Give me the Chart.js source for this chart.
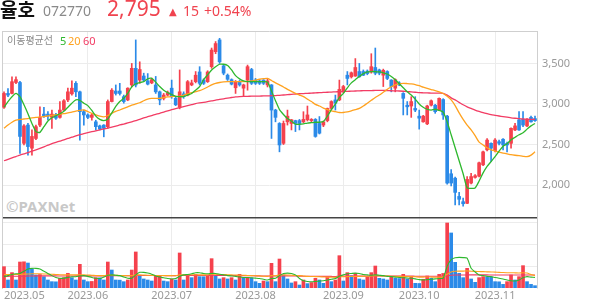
<!DOCTYPE html>
<html>
<head>
<meta charset="utf-8">
<script src="https://cdn.jsdelivr.net/npm/chart.js@4.4.0/dist/chart.umd.min.js"></script>
<style>
  html, body { margin: 0; padding: 0; background: #fff; }
  #wrap { position: relative; width: 594px; height: 304px; overflow: hidden; font-family: "Noto Sans", "Noto Sans CJK KR", sans-serif; }
  #chart { position: absolute; left: 0; top: 0; }
  .t { position: absolute; white-space: nowrap; line-height: 1; }
</style>
</head>
<body>
<div id="wrap">
  <div class="t" style="left:6px;top:199px;font-size:15px;font-weight:700;color:#c8c8c8">©PAXNet</div>
  <canvas id="chart" width="594" height="304"></canvas>
  <div class="t" style="left:0;top:-1px;font-size:19px;font-weight:700;color:#111;font-family:'Noto Sans CJK KR'">율호</div>
  <div class="t" style="left:43px;top:4px;font-size:14px;color:#8a8a8a">072770</div>
  <div class="t" style="left:107px;top:-2px;font-size:21px;color:#f0434f">2,795</div>
  <div class="t" style="left:169px;top:7px;font-size:10px;color:#f0434f;font-family:'DejaVu Sans'">▲</div>
  <div class="t" style="left:183px;top:4px;font-size:14px;color:#f0434f">15</div>
  <div class="t" style="left:204px;top:4px;font-size:14px;color:#f0434f">+0.54%</div>
  <div class="t" style="left:7px;top:35px;font-size:10px;color:#8a8a8a;font-family:'Noto Sans CJK KR'">이동평균선</div>
  <div class="t" style="left:60px;top:35px;font-size:11px;color:#2eb82e">5</div>
  <div class="t" style="left:68px;top:35px;font-size:11px;color:#ffa21f">20</div>
  <div class="t" style="left:83px;top:35px;font-size:11px;color:#f23c64">60</div>
</div>
<script>
// 거래일 (2023.04.28 ~ 2023.11.15)
const months = [
  ['2023.04', [28]],
  ['2023.05', [2,3,4,8,9,10,11,12,15,16,17,18,19,22,23,24,25,26,30,31]],
  ['2023.06', [1,2,5,7,8,9,12,13,14,15,16,19,20,21,22,23,26,27,28,29,30]],
  ['2023.07', [3,4,5,6,7,10,11,12,13,14,17,18,19,20,21,24,25,26,27,28,31]],
  ['2023.08', [1,2,3,4,7,8,9,10,11,14,16,17,18,21,22,23,24,25,28,29,30,31]],
  ['2023.09', [1,4,5,6,7,8,11,12,13,14,15,18,19,20,21,22,25,26,27]],
  ['2023.10', [4,5,6,10,11,12,13,16,17,18,19,20,23,24,25,26,27,30,31]],
  ['2023.11', [1,2,3,6,7,8,9,10,13,14,15]]
];

const opens = [
  2960,3130,3130,3265,3265,2515,2740,2455,2575,2740, 2875,2875,2835,2865,2835,2925,3050,3125,3255,3150,
  2905,2865,2835,2780,2730,2740,2720,3030,3160,3160, 3090,3050,3235,3440,3295,3345,3285,3260,3235,3150,
  3070,3110,3195,3070,2960,3125,3110,3235,3275,3395, 3295,3275,3460,3645,3790,3470,3355,3300,3200,3275,
  3195,3295,3425,3295,3285,3295,3235,3235,2925,2760, 2515,2780,2760,2795,2795,2780,2805,2795,2810,2760,
  2740,2795,2945,3050,3050,3150,3355,3335,3345,3400, 3400,3405,3395,3450,3420,3355,3400,3295,3195,3260,
  3130,2985,2975,2945,2850,2780,2755,2985,2985,2925, 3055,2850,2140,2085,1860,1795,1775,2025,2095,2110,
  2250,2435,2515,2425,2535,2565,2515,2515,2680,2805, 2810,2730,2835,2820
];
const highs = [
  3150,3190,3335,3335,3280,2745,2760,2680,2740,2965, 2960,2905,2925,2885,3030,3055,3195,3285,3275,3160,
  2925,2880,2885,2800,2740,2745,3050,3190,3235,3255, 3110,3200,3500,3790,3520,3380,3375,3320,3340,3160,
  3130,3160,3295,3090,3420,3150,3290,3295,3400,3460, 3310,3410,3690,3770,3810,3480,3370,3310,3290,3290,
  3245,3480,3440,3315,3300,3300,3315,3240,2935,2770, 2790,2925,2810,2800,2810,2905,2975,2820,2820,2845,
  2790,2950,3040,3110,3295,3230,3400,3395,3560,3500, 3420,3420,3620,3690,3430,3430,3410,3300,3310,3275,
  3140,3030,3090,3090,2925,2860,2985,3050,2995,3075, 3065,2860,2190,2100,1910,1840,2105,2145,2130,2285,
  2420,2575,2520,2575,2555,2575,2530,2705,2760,2905, 2905,2820,2850,2850
];
const lows = [
  2945,3090,3125,3250,2390,2495,2370,2370,2560,2720, 2835,2805,2700,2810,2825,2920,3030,3110,3090,2555,
  2740,2820,2800,2680,2680,2595,2700,3025,3110,3110, 3010,3040,3210,3210,3255,3280,3235,3250,3130,2990,
  3050,3100,3070,2980,2940,3070,3100,3225,3260,3235, 3240,3265,3440,3620,3500,3360,3290,3235,3130,3220,
  3090,3170,3240,3240,3240,3240,3210,2575,2780,2410, 2500,2740,2680,2660,2680,2770,2790,2780,2590,2630,
  2720,2780,2930,2925,3040,3140,3235,3320,3340,3330, 3350,3360,3380,3360,3360,3215,3300,3150,3150,3225,
  2865,2865,2835,2905,2690,2775,2745,2975,2885,2920, 2810,2010,1990,1755,1755,1740,1770,2015,2085,2100,
  2240,2420,2290,2410,2495,2435,2410,2455,2670,2675, 2720,2720,2775,2785
];
const closes = [
  3130,3110,3275,3300,2600,2730,2475,2600,2720,2835, 2850,2850,2875,2825,2925,3040,3150,3195,3150,2905,
  2865,2835,2865,2720,2690,2700,3030,3170,3130,3130, 3030,3195,3440,3235,3425,3295,3245,3300,3150,3050,
  3110,3140,3090,2990,3150,3090,3275,3260,3355,3255, 3255,3395,3665,3745,3520,3380,3305,3245,3270,3235,
  3235,3460,3255,3255,3255,3255,3285,2925,2835,2495, 2760,2850,2805,2760,2760,2810,2865,2810,2600,2640,
  2780,2945,3030,3010,3180,3215,3315,3385,3450,3335, 3355,3375,3460,3380,3380,3415,3315,3215,3300,3235,
  3070,2965,3030,2925,2825,2850,2975,3040,2905,3070, 2865,2025,2025,1910,1825,1770,2070,2105,2115,2275,
  2410,2555,2455,2555,2515,2495,2495,2700,2730,2680, 2740,2810,2780,2795
];

// 이동평균선 (가격)
const ma5 = [
  2960,3030,3090,3130,3090,2990,2880,2760,2660,2650, 2720,2790,2830,2855,2880,2910,2960,3010,3050,3045,
  3010,2980,2920,2850,2810,2795,2815,2890,2970,3030, 3070,3130,3210,3250,3265,3275,3310,3315,3270,3215,
  3170,3140,3115,3095,3090,3090,3110,3130,3170,3215, 3300,3360,3420,3460,3490,3490,3475,3420,3350,3310,
  3285,3275,3275,3275,3275,3275,3270,3160,3040,2930, 2870,2820,2790,2750,2750,2755,2765,2770,2775,2775,
  2785,2850,2930,3000,3080,3130,3200,3260,3300,3340, 3375,3395,3400,3400,3395,3385,3370,3340,3300,3250,
  3200,3150,3110,3060,3000,2960,2935,2925,2935,2920, 2900,2780,2620,2460,2300,2140,1965,1960,1965,2050,
  2150,2230,2290,2350,2420,2480,2510,2560,2590,2620, 2645,2690,2730,2760
];
const ma20 = [
  2700,2740,2775,2800,2810,2815,2820,2828,2835,2840, 2845,2852,2860,2866,2872,2880,2890,2900,2912,2922,
  2926,2905,2885,2865,2850,2842,2858,2885,2908,2926, 2945,2965,2985,3000,3015,3040,3060,3068,3070,3070,
  3080,3088,3092,3094,3098,3110,3125,3140,3152,3165, 3185,3210,3235,3255,3265,3272,3275,3275,3275,3275,
  3275,3278,3285,3295,3305,3312,3316,3290,3260,3235, 3210,3180,3155,3130,3110,3090,3060,3030,2995,2975,
  2950,2930,2915,2905,2895,2895,2902,2915,2930,2945, 2975,3010,3045,3080,3110,3145,3180,3213,3235,3250,
  3255,3252,3248,3240,3225,3208,3192,3178,3165,3150, 3130,3095,3050,2980,2890,2810,2740,2680,2610,2530,
  2495,2460,2435,2420,2405,2395,2385,2375,2368,2362, 2355,2350,2370,2410
];
const ma60 = [
  2300,2318,2335,2352,2370,2385,2400,2418,2433,2452, 2472,2492,2512,2528,2543,2558,2575,2590,2607,2622,
  2636,2647,2658,2669,2680,2692,2703,2715,2728,2741, 2753,2766,2780,2795,2810,2828,2843,2858,2872,2885,
  2900,2915,2930,2944,2956,2968,2980,2992,3005,3013, 3020,3028,3037,3048,3056,3064,3072,3080,3088,3092,
  3094,3095,3096,3097,3098,3099,3100,3102,3104,3107, 3111,3115,3119,3122,3126,3129,3131,3134,3137,3140,
  3142,3145,3147,3150,3152,3154,3156,3158,3160,3162, 3164,3165,3166,3167,3168,3167,3165,3163,3161,3160,
  3157,3153,3149,3145,3140,3138,3136,3135,3134,3133, 3131,3110,3075,3050,3020,2990,2965,2945,2925,2908,
  2893,2880,2868,2860,2852,2845,2838,2830,2824,2819, 2815,2812,2810,2810
];

// 거래량 (백만 주)
const volumes = [
  2.93,1.10,2.11,1.10,3.57,3.60,3.43,2.61,1.79,1.85, 1.56,1.10,0.87,0.85,1.33,1.42,2.02,1.42,1.10,3.25,
  1.10,0.87,0.90,1.42,1.40,1.10,3.57,2.47,1.10,1.08, 0.87,1.10,2.47,4.95,1.69,1.24,1.10,0.96,1.69,1.72,
  0.96,0.87,1.24,1.10,4.81,1.10,1.79,1.42,1.88,1.56, 1.55,1.60,4.03,1.69,1.24,1.42,1.24,1.42,1.10,1.88,
  1.42,1.45,1.40,0.87,0.64,0.96,0.87,3.39,0.87,3.98, 1.79,1.24,0.69,0.87,0.41,1.10,0.60,0.75,1.33,1.10,
  0.64,1.56,0.87,1.10,4.44,0.96,2.11,1.69,2.02,1.24, 1.10,1.56,2.11,3.02,1.33,1.24,1.10,1.56,1.33,1.30,
  1.88,1.24,1.56,0.64,0.62,1.20,1.65,1.33,0.87,1.88, 2.00,8.93,7.56,3.53,2.02,1.42,2.70,1.24,0.78,1.42,
  1.56,1.55,1.50,0.87,0.85,0.50,0.87,1.79,1.10,1.56, 3.07,0.87,0.50,0.32
];
const volMa5 = [
  1.56,1.70,1.85,1.95,2.00,2.30,2.60,2.70,2.70,2.60, 2.30,2.00,1.70,1.45,1.33,1.35,1.45,1.55,1.55,1.65,
  1.70,1.60,1.45,1.35,1.30,1.50,1.75,1.80,1.75,1.70, 1.50,1.35,1.35,1.80,2.15,2.15,2.05,1.90,1.65,1.50,
  1.40,1.30,1.24,1.30,1.60,1.80,1.85,1.95,2.10,2.10, 2.00,1.95,2.00,2.00,1.90,1.80,1.70,1.65,1.60,1.50,
  1.45,1.45,1.40,1.35,1.30,1.20,1.10,1.30,1.35,1.70, 2.00,2.05,2.00,1.80,1.30,1.00,0.90,0.85,0.90,0.95,
  1.00,1.10,1.20,1.30,1.60,1.80,1.95,2.00,2.05,2.00, 1.85,1.80,1.75,1.80,1.75,1.70,1.60,1.56,1.50,1.45,
  1.40,1.38,1.33,1.25,1.15,1.10,1.15,1.20,1.25,1.30, 1.35,3.00,3.90,4.15,4.20,4.17,4.10,2.70,2.20,1.80,
  1.70,1.60,1.56,1.45,1.35,1.24,1.10,1.00,0.96,1.10, 1.40,1.56,1.50,1.45
];
const volMa20 = [
  1.85,1.85,1.86,1.86,1.87,1.90,1.92,1.95,1.95,1.95, 1.93,1.90,1.88,1.85,1.82,1.80,1.80,1.80,1.80,1.82,
  1.80,1.78,1.75,1.72,1.70,1.70,1.75,1.78,1.75,1.72, 1.70,1.68,1.70,1.80,1.80,1.78,1.76,1.74,1.72,1.72,
  1.70,1.70,1.70,1.68,1.80,1.80,1.82,1.82,1.82,1.80, 1.80,1.80,1.90,1.88,1.86,1.85,1.82,1.80,1.78,1.76,
  1.75,1.72,1.70,1.68,1.65,1.62,1.60,1.70,1.68,1.78, 1.80,1.78,1.75,1.72,1.70,1.65,1.60,1.58,1.56,1.55,
  1.52,1.50,1.48,1.46,1.55,1.55,1.56,1.58,1.60,1.60, 1.62,1.62,1.65,1.70,1.68,1.66,1.64,1.62,1.60,1.60,
  1.60,1.58,1.56,1.54,1.50,1.50,1.52,1.50,1.48,1.50, 1.52,1.90,2.20,2.30,2.32,2.32,2.35,2.30,2.28,2.26,
  2.25,2.22,2.20,2.18,2.15,2.12,2.10,2.10,2.08,2.06, 2.10,2.05,1.85,1.70
];
const volMa60 = [
  1.60,1.60,1.61,1.61,1.62,1.63,1.64,1.65,1.66,1.66, 1.66,1.66,1.66,1.66,1.65,1.65,1.65,1.65,1.66,1.67,
  1.67,1.67,1.66,1.66,1.66,1.66,1.68,1.69,1.69,1.69, 1.68,1.68,1.69,1.72,1.72,1.72,1.72,1.71,1.71,1.71,
  1.71,1.70,1.70,1.70,1.72,1.72,1.72,1.72,1.72,1.72, 1.72,1.72,1.74,1.74,1.73,1.72,1.72,1.71,1.70,1.70,
  1.70,1.69,1.68,1.67,1.66,1.65,1.64,1.66,1.65,1.67, 1.67,1.66,1.65,1.64,1.63,1.62,1.61,1.60,1.60,1.60,
  1.60,1.60,1.59,1.58,1.62,1.62,1.63,1.63,1.63,1.63, 1.63,1.63,1.65,1.66,1.66,1.66,1.65,1.65,1.64,1.64,
  1.64,1.64,1.63,1.62,1.61,1.61,1.62,1.62,1.61,1.62, 1.62,1.70,1.76,1.78,1.79,1.79,1.80,1.80,1.80,1.80,
  1.80,1.80,1.79,1.79,1.78,1.78,1.78,1.78,1.78,1.78, 1.80,1.79,1.78,1.78
];

const priceTicks = [2000, 2500, 3000, 3500];
const volTicks = [3, 6, 9];

const RED = '#f5414d';
const BLUE = '#2b8ae8';

const categories = [];
months.forEach(([m, days]) => days.forEach(d => categories.push(m + '.' + String(d).padStart(2, '0'))));

const all = [opens, highs, lows, closes, ma5, ma20, ma60, volumes, volMa5, volMa20, volMa60];
if (all.some(a => a.length !== categories.length)) {
  document.body.insertAdjacentHTML('beforeend', '<p>length mismatch ' + all.map(a => a.length).join(',') + '</p>');
}

// 월 시작 인덱스
const monthStart = [];
categories.forEach((c, i) => {
  if (i > 0 && c.slice(0, 7) !== categories[i - 1].slice(0, 7)) monthStart.push(i);
});
const xTicks = [0].concat(monthStart.slice(1), [categories.length - 1]);
const xLabel = v => {
  if (v === 0) return categories[monthStart[0]].slice(0, 7);
  if (v === categories.length - 1) return '';
  return categories[v].slice(0, 7);
};

const candleColor = closes.map((c, i) => c >= opens[i] ? RED : BLUE);
const volColor = volumes.map((v, i) => (i === 0 || v > volumes[i - 1]) ? RED : BLUE);

const line = (data, color, axis, w) => ({
  type: 'line', data, yAxisID: axis, borderColor: color, borderWidth: w,
  pointRadius: 0, tension: 0.2, order: 0
});

Chart.defaults.font.family = "'Noto Sans', sans-serif";
Chart.defaults.font.size = 11;
Chart.defaults.color = '#999';

new Chart(document.getElementById('chart'), {
  type: 'bar',
  data: {
    labels: categories,
    datasets: [
      line(ma5, '#2eb82e', 'y', 1.3),
      line(ma20, '#ffa21f', 'y', 1.3),
      line(ma60, '#f23c64', 'y', 1.3),
      line(volMa5, '#2eb82e', 'y2', 1.1),
      line(volMa20, '#ffa21f', 'y2', 1.1),
      line(volMa60, '#f23c64', 'y2', 1.1),
      { data: lows.map((l, i) => [l, highs[i]]), yAxisID: 'y', backgroundColor: candleColor,
        barThickness: 1, grouped: false, order: 3 },
      { data: opens.map((o, i) => [o, closes[i]]), yAxisID: 'y', backgroundColor: candleColor,
        barThickness: 3, grouped: false, order: 2 },
      { data: volumes, yAxisID: 'y2', backgroundColor: volColor,
        barThickness: 3, grouped: false, order: 4 }
    ]
  },
  options: {
    responsive: false,
    animation: false,
    devicePixelRatio: 1,
    layout: { padding: { top: 31, left: 2, right: 0, bottom: 0 } },
    plugins: { legend: { display: false }, tooltip: { enabled: false } },
    scales: {
      x: {
        grid: { offset: false, drawTicks: false,
          color: c => (c.tick && (c.tick.value === 0 || c.tick.value === categories.length - 1)) ? 'rgba(0,0,0,0)' : '#ececec' },
        border: { display: false },
        afterBuildTicks: s => { s.ticks = xTicks.map(v => ({ value: v })); },
        ticks: { autoSkip: false, maxRotation: 0, align: 'inner', padding: 1, callback: v => xLabel(v) },
        afterFit: s => { s.height = 16; }
      },
      y: {
        position: 'right', weight: 1, min: 731, max: 3900,
        grid: { drawTicks: false, color: c => c.tick.value === 1600 ? '#444' : (c.tick.value === 3900 ? '#cfcfcf' : '#ececec'),
          lineWidth: c => c.tick.value === 1600 ? 1.5 : 1 },
        border: { display: true, color: '#cfcfcf' },
        afterBuildTicks: s => { s.ticks = [1600].concat(priceTicks, [3900]).map(v => ({ value: v })); },
        ticks: { padding: 5, callback: v => priceTicks.includes(v) ? v.toLocaleString('en-US') : '' },
        afterFit: s => { s.width = 57; }
      },
      y2: {
        position: 'right', weight: 0, min: 0, max: 35.3,
        grid: { drawTicks: false, color: '#ececec' },
        border: { display: false },
        afterBuildTicks: s => { s.ticks = volTicks.map(v => ({ value: v })); },
        ticks: { padding: 5, callback: v => v < 9 ? v + 'M' : '' },
        afterFit: s => { s.width = 0; }
      },
      yl: {
        position: 'left', min: 0, max: 1,
        grid: { display: false, drawTicks: false },
        border: { display: true, color: '#cfcfcf' },
        ticks: { display: false },
        afterFit: s => { s.width = 0; }
      }
    }
  }
});
</script>
</body>
</html>
